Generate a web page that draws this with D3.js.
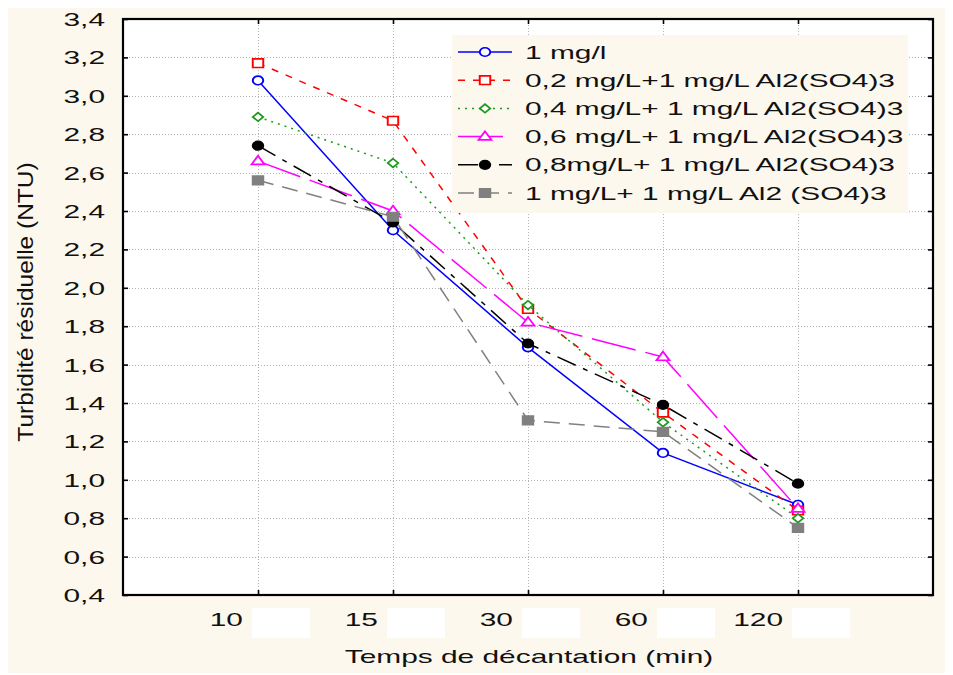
<!DOCTYPE html>
<html><head><meta charset="utf-8">
<script src="https://cdn.jsdelivr.net/npm/d3@7"></script>
<style>html,body{margin:0;padding:0;background:#fff;}svg{display:block;}</style>
</head><body>
<svg id="c" width="953" height="675"></svg>
<script>
// ---- data ----
const categories = ["10", "15", "30", "60", "120"];
const yTickValues = [0.4,0.6,0.8,1.0,1.2,1.4,1.6,1.8,2.0,2.2,2.4,2.6,2.8,3.0,3.2,3.4];
const seriesNames = [
  "1 mg/l",
  "0,2 mg/L+1 mg/L Al2(SO4)3",
  "0,4 mg/L+ 1 mg/L Al2(SO4)3",
  "0,6 mg/L+ 1 mg/L Al2(SO4)3",
  "0,8mg/L+ 1 mg/L Al2(SO4)3",
  "1 mg/L+ 1 mg/L Al2 (SO4)3"
];
const s1 = [3.08, 2.30, 1.69, 1.14, 0.87];
const s2 = [3.17, 2.87, 1.89, 1.35, 0.84];
const s3 = [2.89, 2.65, 1.91, 1.30, 0.80];
const s4 = [2.66, 2.40, 1.82, 1.64, 0.85];
const s5 = [2.74, 2.34, 1.71, 1.39, 0.98];
const s6 = [2.56, 2.37, 1.31, 1.25, 0.75];
const seriesValues = [s1, s2, s3, s4, s5, s6];
const xTitle = "Temps de décantation (min)";
const yTitle = "Turbidité résiduelle (NTU)";

// ---- styles ----
const styles = [
  {color:"#0000ff", dash:null, marker:"circle", fill:false},
  {color:"#ff0000", dash:"7,8", marker:"square", fill:false},
  {color:"#1c9a1c", dash:"2,5", marker:"diamond", fill:false},
  {color:"#ff00ff", dash:"45,10", marker:"triangle", fill:false},
  {color:"#000000", dash:"20,8,5,8", marker:"circle", fill:true},
  {color:"#808080", dash:"16,9", marker:"square", fill:true}
];
const SX = 1.66; // horizontal text stretch
const FONT = "'Liberation Sans', Arial, sans-serif";
const svg = d3.select("#c");
const L = 123, R = 933, T = 19, B = 595;

svg.append("rect").attr("x",8).attr("y",8).attr("width",937).attr("height",665).attr("fill","#fdf8ee");
svg.append("rect").attr("x",L).attr("y",T).attr("width",R-L).attr("height",B-T).attr("fill","#fff");

const x = d3.scalePoint().domain(categories).range([L,R]).padding(1);
const y = d3.scaleLinear().domain([0.4,3.4]).range([B,T]);
const fmt = v => d3.format(".1f")(v).replace(".", ",");

// grid
const grid = svg.append("g").attr("stroke","#b4b4b4").attr("stroke-width",1).attr("stroke-dasharray","1,2");
grid.selectAll("line.h").data(yTickValues.slice(1,-1)).join("line")
  .attr("x1",L).attr("x2",R).attr("y1",d=>Math.round(y(d))+0.5).attr("y2",d=>Math.round(y(d))+0.5);
grid.selectAll("line.v").data(categories).join("line")
  .attr("x1",d=>Math.round(x(d))+0.5).attr("x2",d=>Math.round(x(d))+0.5).attr("y1",T).attr("y2",B);

// axes with inward ticks on all 4 sides
const yl = svg.append("g").attr("transform",`translate(${L},0)`).call(d3.axisRight(y).tickValues(yTickValues).tickSize(5).tickFormat(""));
const yr = svg.append("g").attr("transform",`translate(${R},0)`).call(d3.axisLeft(y).tickValues(yTickValues).tickSize(5).tickFormat(""));
const xb = svg.append("g").attr("transform",`translate(0,${B})`).call(d3.axisTop(x).tickSize(5).tickFormat(""));
const xt = svg.append("g").attr("transform",`translate(0,${T})`).call(d3.axisBottom(x).tickSize(5).tickFormat(""));
[yl,yr,xb,xt].forEach(g=>{g.select(".domain").remove(); g.selectAll("line").attr("stroke","#000").attr("stroke-width",1.6);});
svg.append("rect").attr("x",L).attr("y",T).attr("width",R-L).attr("height",B-T)
  .attr("fill","none").attr("stroke","#000").attr("stroke-width",2.2);

// y tick labels
svg.append("g").selectAll("text").data(yTickValues).join("text")
  .attr("transform",d=>`translate(${L-18},${y(d)+7}) scale(${SX},1)`)
  .attr("text-anchor","end").attr("font-family",FONT).attr("font-size",18).attr("fill","#111")
  .text(fmt);

// x tick labels + whiteout patches
const xl = svg.append("g");
xl.selectAll("rect").data(categories).join("rect")
  .attr("x",d=>x(d)-6).attr("y",608).attr("width",58).attr("height",30).attr("fill","#fff");
xl.selectAll("text").data(categories).join("text")
  .attr("transform",d=>`translate(${x(d)-15},${626}) scale(${SX},1)`)
  .attr("text-anchor","end").attr("font-family",FONT).attr("font-size",18).attr("fill","#111")
  .text(d=>d);

// titles
svg.append("text").attr("transform",`translate(529,663) scale(${SX},1)`)
  .attr("text-anchor","middle").attr("font-family",FONT).attr("font-size",18).attr("fill","#111").text(xTitle);
svg.append("text").attr("transform",`translate(33,302) rotate(-90) scale(1.36,1.22)`)
  .attr("text-anchor","middle").attr("font-family",FONT).attr("font-size",18).attr("fill","#111").text(yTitle);

// markers
function markerPath(type){
  const s = 4.3;
  if(type==="circle") return d3.symbol(d3.symbolCircle, 58)();
  if(type==="square") return `M${-s},${-s}H${s}V${s}H${-s}Z`;
  if(type==="diamond") return `M0,${-s}L${s},0L0,${s}L${-s},0Z`;
  if(type==="triangle") return `M0,${-s-1}L${s+1},${s-1}L${-s-1},${s-1}Z`;
}
function drawMarker(g, st, cx, cy){
  g.append("path").attr("d", markerPath(st.marker))
    .attr("transform",`translate(${cx},${cy}) scale(1.22,1)`)
    .attr("fill", st.fill ? st.color : "#fff")
    .attr("stroke", st.color).attr("stroke-width", 1.6);
}

// series
const line = d3.line().x((d,i)=>x(categories[i])).y(d=>y(d));
seriesValues.forEach((vals,k)=>{
  const st = styles[k];
  const g = svg.append("g");
  g.append("path").datum(vals).attr("d",line).attr("fill","none")
    .attr("stroke",st.color).attr("stroke-width",1.5)
    .attr("stroke-dasharray",st.dash);
  vals.forEach((v,i)=>drawMarker(g, st, x(categories[i]), y(v)));
});

// legend
const lg = svg.append("g");
lg.append("rect").attr("x",452).attr("y",35).attr("width",456).attr("height",178).attr("fill","#fdf8ee");
const ly = d3.scalePoint().domain(d3.range(seriesNames.length)).range([52,193]);
seriesNames.forEach((name,k)=>{
  const st = styles[k];
  const yy = ly(k);
  lg.append("line").attr("x1",458).attr("x2",512).attr("y1",yy).attr("y2",yy)
    .attr("stroke",st.color).attr("stroke-width",1.5).attr("stroke-dasharray",st.dash);
  drawMarker(lg, st, 485, yy);
  lg.append("text").attr("transform",`translate(525,${yy+6.5}) scale(${SX},1)`)
    .attr("font-family",FONT).attr("font-size",18).attr("fill","#111").text(name);
});
</script>
</body></html>
